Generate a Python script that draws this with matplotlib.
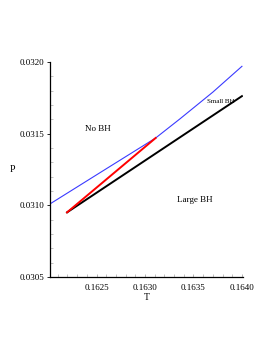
import matplotlib
matplotlib.use("Agg")
import matplotlib.pyplot as plt
from matplotlib.ticker import MultipleLocator

plt.rcParams['font.family'] = ['Liberation Serif', 'DejaVu Serif']

# Data
blue_T = [0.16202, 0.16260, 0.16311, 0.16336, 0.16370, 0.16400]
blue_P = [0.03101, 0.031255, 0.03147, 0.031603, 0.03179, 0.03197]
black_T = [0.162196, 0.16400]
black_P = [0.030951, 0.031762]
red_T = [0.162196, 0.16311]
red_P = [0.030951, 0.03147]

xticks = [0.1625, 0.1630, 0.1635, 0.1640]
yticks = [0.0305, 0.0310, 0.0315, 0.0320]

fig = plt.figure(figsize=(2.74, 3.55), dpi=100)
ax = fig.add_axes([0.1825, 0.2197, 0.704, 0.6056])

ax.plot(blue_T, blue_P, color='#3a3aff', lw=0.8)
ax.plot(black_T, black_P, color='black', lw=1.4)
ax.plot(red_T, red_P, color='#ff0000', lw=1.4)

ax.set_xlim(0.16202, 0.16401)
ax.set_ylim(0.0305, 0.0320)
ax.set_xticks(xticks)
ax.set_xticklabels([f"{v:.4f}" for v in xticks])
ax.set_yticks(yticks)
ax.set_yticklabels([f"{v:.4f}" for v in yticks])
ax.xaxis.set_minor_locator(MultipleLocator(0.0001))
ax.yaxis.set_minor_locator(MultipleLocator(0.0001))
ax.tick_params(which='major', labelsize=6.5, length=2, width=0.6, direction='out', pad=2)
ax.tick_params(which='minor', length=2, width=0.5, direction='in', color='#aaaaaa')
ax.tick_params(axis='x', which='major', direction='in', color='#aaaaaa', length=2, pad=5)

for s in ['top', 'right']:
    ax.spines[s].set_visible(False)
for s in ['left', 'bottom']:
    ax.spines[s].set_linewidth(0.9)

ax.set_xlabel('T', fontsize=7, labelpad=1)
ax.set_ylabel('P', fontsize=7, rotation=0, labelpad=5, va='center')

ax.text(0.16251, 0.031533, 'No BH', fontsize=6.5, ha='center', va='center')
ax.text(0.16378, 0.031728, 'Small BH', fontsize=5, ha='center', va='center')
ax.text(0.163515, 0.031037, 'Large BH', fontsize=6.5, ha='center', va='center')

fig.savefig('out.png', dpi=100)
